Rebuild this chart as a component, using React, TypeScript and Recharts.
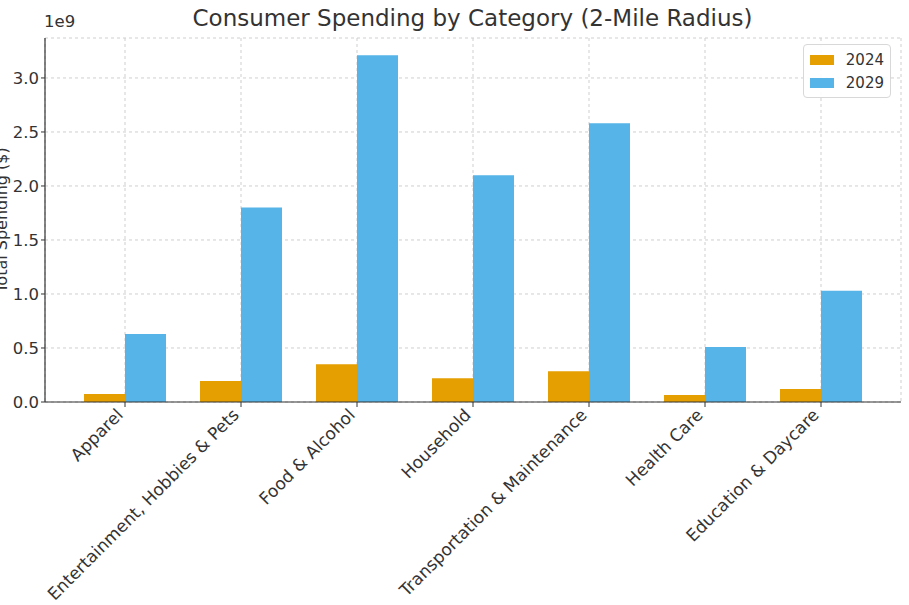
import React from 'react';
import { BarChart, Bar, XAxis, YAxis, CartesianGrid } from 'recharts';

const categories = [
  'Apparel',
  'Entertainment, Hobbies & Pets',
  'Food & Alcohol',
  'Household',
  'Transportation & Maintenance',
  'Health Care',
  'Education & Daycare',
];
const spending2024 = [0.074e9, 0.195e9, 0.35e9, 0.22e9, 0.285e9, 0.065e9, 0.12e9];
const spending2029 = [0.63e9, 1.8e9, 3.21e9, 2.1e9, 2.58e9, 0.51e9, 1.03e9];
const yTicks = [0, 0.5e9, 1.0e9, 1.5e9, 2.0e9, 2.5e9, 3.0e9];
const seriesNames = ['2024', '2029'];
const colors = ['#E69F00', '#56B4E9'];

const data = categories.map((c, i) => ({
  category: c,
  y2024: spending2024[i],
  y2029: spending2029[i],
}));

const FONT = '"DejaVu Sans", sans-serif';

const XTick = (props: any) => {
  const { x, y, payload } = props;
  const bx = x - 1;
  const by = y + 7;
  return (
    <text
      x={bx}
      y={by}
      transform={`rotate(-45 ${bx} ${by})`}
      textAnchor="end"
      fontSize={17}
      fontFamily={FONT}
      fill="#333"
    >
      {payload.value}
    </text>
  );
};

export default function App() {
  return (
    <div style={{ position: 'absolute', left: 0, top: 0, width: 909, height: 605, background: '#fff', overflow: 'hidden' }}>
      <BarChart
        width={909}
        height={605}
        data={data}
        margin={{ top: 38, right: 8, bottom: 3, left: 0 }}
        barGap={0}
        barCategoryGap={17}
      >
        <CartesianGrid stroke="#cfcfcf" strokeDasharray="3 3" />
        <XAxis
          dataKey="category"
          interval={0}
          height={200}
          padding={{ left: 22, right: 22 }}
          tick={<XTick />}
          tickLine={{ stroke: '#333' }}
          tickSize={5}
          axisLine={{ stroke: '#333', strokeWidth: 1.2 }}
        />
        <YAxis
          width={45}
          domain={[0, 3.37e9]}
          ticks={yTicks}
          tickFormatter={(v: number) => (v / 1e9).toFixed(1)}
          tick={{ fontSize: 16.5, fontFamily: FONT, fill: '#333' }}
          tickLine={{ stroke: '#333' }}
          tickSize={4}
          axisLine={{ stroke: '#333', strokeWidth: 1.2 }}
        />
        <Bar dataKey="y2024" name={seriesNames[0]} fill={colors[0]} isAnimationActive={false} />
        <Bar dataKey="y2029" name={seriesNames[1]} fill={colors[1]} isAnimationActive={false} />
      </BarChart>
      <div
        style={{
          position: 'absolute',
          left: 803,
          top: 44,
          width: 88,
          boxSizing: 'border-box',
          border: '1px solid #d8d8d8',
          borderRadius: 4,
          background: 'rgba(255,255,255,0.9)',
          padding: '3px 6px',
          fontFamily: FONT,
          fontSize: 15,
          color: '#333',
        }}
      >
        {seriesNames.map((n, i) => (
          <div key={n} style={{ display: 'flex', alignItems: 'center', height: 23 }}>
            <div style={{ width: 28, height: 10, background: colors[i], marginRight: 12 }} />
            <span>{n}</span>
          </div>
        ))}
      </div>
      <div
        style={{
          position: 'absolute',
          left: 0,
          width: 945,
          top: 5,
          textAlign: 'center',
          fontFamily: FONT,
          fontSize: 23,
          color: '#333',
          whiteSpace: 'nowrap',
        }}
      >
        Consumer Spending by Category (2-Mile Radius)
      </div>
      <div
        style={{
          position: 'absolute',
          left: 44,
          top: 12,
          fontFamily: FONT,
          fontSize: 16.5,
          color: '#333',
        }}
      >
        1e9
      </div>
      <div
        style={{
          position: 'absolute',
          left: 1,
          top: 220,
          width: 0,
          height: 0,
        }}
      >
        <div
          style={{
            position: 'absolute',
            transform: 'translate(-50%, -50%) rotate(-90deg)',
            fontFamily: FONT,
            fontSize: 16,
            color: '#333',
            whiteSpace: 'nowrap',
          }}
        >
          Total Spending ($)
        </div>
      </div>
    </div>
  );
}
